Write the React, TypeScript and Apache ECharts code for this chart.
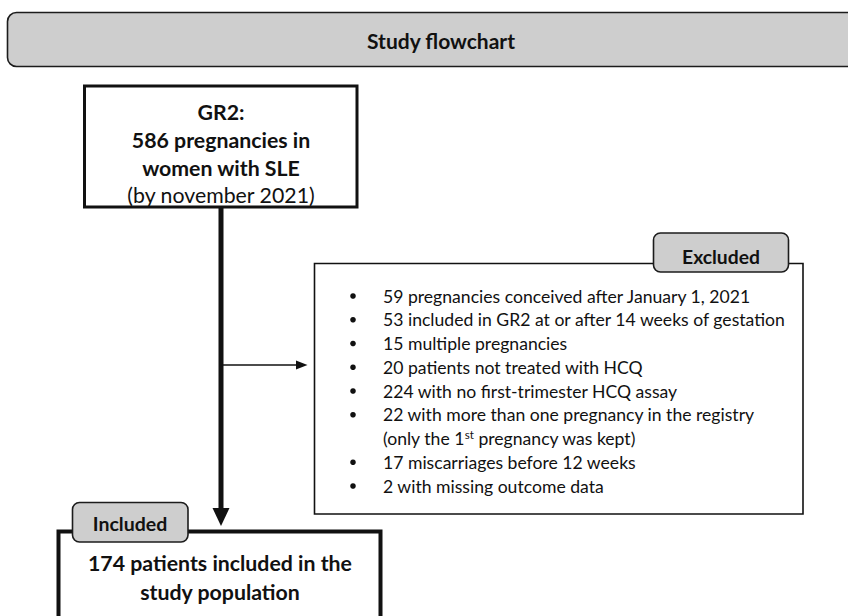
import React, { useEffect, useRef } from "react";
import * as echarts from "echarts";

const titleText = "Study flowchart";
const sourceLines = ["GR2:", "586 pregnancies in", "women with SLE"];
const sourceNote = "(by november 2021)";
const excludedLabel = "Excluded";
const includedLabel = "Included";
const excludedItems: string[][] = [
  ["59 pregnancies conceived after January 1, 2021"],
  ["53 included in GR2 at or after 14 weeks of gestation"],
  ["15 multiple pregnancies"],
  ["20 patients not treated with HCQ"],
  ["224 with no first-trimester HCQ assay"],
  ["22 with more than one pregnancy in the registry", "(only the 1{sup|st} pregnancy was kept)"],
  ["17 miscarriages before 12 weeks"],
  ["2 with missing outcome data"],
];
const includedLines = ["174 patients included in the", "study population"];

const FONT = "Lato, 'Open Sans', sans-serif";
const INK = "#111111";
const GREY = "#cecece";

export default function App() {
  const ref = useRef<HTMLDivElement>(null);
  useEffect(() => {
    if (!ref.current) return;
    const chart = echarts.init(ref.current, undefined, { renderer: "svg" });
    const g: any[] = [];

    // banner
    g.push({
      type: "rect",
      shape: { x: 7.5, y: 12.5, width: 900, height: 54, r: 9 },
      style: { fill: GREY, stroke: "#1c1c1c", lineWidth: 1.6 },
    });
    g.push({
      type: "text",
      x: 441,
      y: 40,
      style: { text: titleText, fontFamily: FONT, fontWeight: "bold", fontSize: 21, fill: INK, align: "center", verticalAlign: "middle" },
    });

    // source box
    g.push({
      type: "rect",
      shape: { x: 84.5, y: 86, width: 272.5, height: 121 },
      style: { fill: "#fff", stroke: INK, lineWidth: 3 },
    });
    const srcY = [112, 140, 167.5];
    sourceLines.forEach((t, i) => {
      g.push({
        type: "text",
        x: 221,
        y: srcY[i],
        style: { text: t, fontFamily: FONT, fontWeight: "bold", fontSize: 21.3, fill: INK, align: "center", verticalAlign: "middle" },
      });
    });
    g.push({
      type: "text",
      x: 221,
      y: 195,
      style: { text: sourceNote, fontFamily: FONT, fontSize: 21.3, fill: INK, align: "center", verticalAlign: "middle" },
    });

    // arrows
    g.push({ type: "line", shape: { x1: 221, y1: 208, x2: 221, y2: 512 }, style: { stroke: INK, lineWidth: 5 } });
    g.push({ type: "polygon", shape: { points: [[212.5, 508], [229.5, 508], [221, 526]] }, style: { fill: INK } });
    g.push({ type: "line", shape: { x1: 221, y1: 365, x2: 298, y2: 365 }, style: { stroke: INK, lineWidth: 1.3 } });
    g.push({ type: "polygon", shape: { points: [[296, 360.5], [296, 369.5], [307.5, 365]] }, style: { fill: INK } });

    // excluded box
    g.push({
      type: "rect",
      shape: { x: 314.5, y: 263.5, width: 488.5, height: 250.5 },
      style: { fill: "#fff", stroke: INK, lineWidth: 1.6 },
    });
    g.push({
      type: "rect",
      shape: { x: 653.5, y: 233, width: 135, height: 39, r: 7 },
      style: { fill: GREY, stroke: "#1c1c1c", lineWidth: 1.6 },
    });
    g.push({
      type: "text",
      x: 721,
      y: 256,
      style: { text: excludedLabel, fontFamily: FONT, fontWeight: "bold", fontSize: 19.3, fill: INK, align: "center", verticalAlign: "middle" },
    });
    const lineStep = 23.75;
    let row = 0;
    excludedItems.forEach((item) => {
      item.forEach((t, j) => {
        const y = 296 + row * lineStep;
        if (j === 0) {
          g.push({ type: "circle", shape: { cx: 353, cy: y, r: 2.8 }, style: { fill: INK } });
        }
        g.push({
          type: "text",
          x: 383,
          y,
          style: {
            text: t,
            fontFamily: FONT,
            fontSize: 17.6,
            fill: INK,
            align: "left",
            verticalAlign: "middle",
            rich: {
              sup: { fontFamily: FONT, fontSize: 11.5, fill: INK, padding: [0, 0, 9, 0] },
            },
          },
        });
        row++;
      });
    });

    // included box
    g.push({
      type: "rect",
      shape: { x: 58.5, y: 531.5, width: 322, height: 140 },
      style: { fill: "#fff", stroke: INK, lineWidth: 4 },
    });
    g.push({
      type: "rect",
      shape: { x: 72.5, y: 502.5, width: 115.5, height: 39.5, r: 7 },
      style: { fill: GREY, stroke: "#1c1c1c", lineWidth: 1.6 },
    });
    g.push({
      type: "text",
      x: 130,
      y: 523,
      style: { text: includedLabel, fontFamily: FONT, fontWeight: "bold", fontSize: 19.5, fill: INK, align: "center", verticalAlign: "middle" },
    });
    const incY = [563, 592];
    includedLines.forEach((t, i) => {
      g.push({
        type: "text",
        x: 220,
        y: incY[i],
        style: { text: t, fontFamily: FONT, fontWeight: "bold", fontSize: 21.3, fill: INK, align: "center", verticalAlign: "middle" },
      });
    });

    chart.setOption({ animation: false, graphic: { elements: g } });
    return () => chart.dispose();
  }, []);
  return (
    <div
      ref={ref}
      style={{ position: "absolute", left: 0, top: 0, width: 848, height: 616, background: "#fff" }}
    />
  );
}
